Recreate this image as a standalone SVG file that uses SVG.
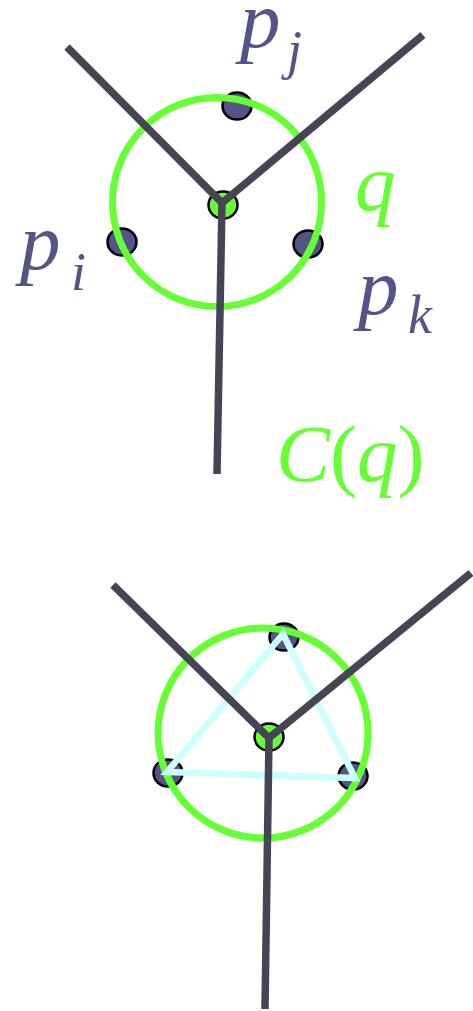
<svg xmlns="http://www.w3.org/2000/svg" width="473" height="1011" viewBox="0 0 473 1011">
<style>
.edge{stroke:#454555;stroke-width:7.5;fill:none}
.site{fill:#545488;stroke:#000;stroke-width:2.5}
.vert{fill:#66ff33;stroke:#000;stroke-width:2.5}
.circ{fill:none;stroke:#66ff33;stroke-width:7}
.tri{fill:none;stroke:#ccffff;stroke-width:6.5;stroke-linejoin:miter}
</style>
<rect width="473" height="1011" fill="#fff"/>
<g id="top-figure">
  <g id="site-pj"><ellipse class="site" cx="237" cy="106" rx="14.5" ry="13.5"/></g>
  <g id="site-pi"><ellipse class="site" cx="122" cy="242" rx="14.5" ry="13.5"/></g>
  <g id="site-pk"><ellipse class="site" cx="308" cy="244" rx="14.5" ry="13.5"/></g>
  <g id="circle-Cq"><circle class="circ" cx="217" cy="202" r="104.5"/></g>
  <g id="vertex-q"><ellipse class="vert" cx="223" cy="205" rx="14.5" ry="13.5"/></g>
  <g id="edges-top">
    <polyline class="edge" points="67,47 222,203 423,35"/>
    <line class="edge" x1="222" y1="203" x2="217" y2="474"/>
  </g>
  <g id="label-pj"><text x="240" y="47" font-family="Liberation Serif" font-style="italic" font-size="81" fill="#545488">p</text><text x="287" y="68" font-family="Liberation Serif" font-style="italic" font-size="54" fill="#545488">j</text></g>
  <g id="label-pi"><text x="20" y="269" font-family="Liberation Serif" font-style="italic" font-size="81" fill="#545488">p</text><text x="71" y="290" font-family="Liberation Serif" font-style="italic" font-size="54" fill="#545488">i</text></g>
  <g id="label-pk"><text x="358" y="314" font-family="Liberation Serif" font-style="italic" font-size="81" fill="#545488">p</text><text x="408" y="333" font-family="Liberation Serif" font-style="italic" font-size="54" fill="#545488">k</text></g>
  <g id="label-q"><text x="355" y="210" font-family="Liberation Serif" font-style="italic" font-size="81" fill="#66ff33">q</text></g>
  <g id="label-Cq"><text x="276" y="481" font-family="Liberation Serif" font-style="italic" font-size="81" fill="#66ff33">C<tspan font-style="normal">(</tspan>q<tspan font-style="normal">)</tspan></text></g>
</g>
<g id="bottom-figure">
  <g id="site-top"><ellipse class="site" cx="284" cy="637" rx="14.5" ry="13.5"/></g>
  <g id="site-left"><ellipse class="site" cx="168" cy="773" rx="14.5" ry="13.5"/></g>
  <g id="site-right"><ellipse class="site" cx="353" cy="776" rx="14.5" ry="13.5"/></g>
  <g id="circle-bottom"><circle class="circ" cx="263" cy="733" r="105"/></g>
  <g id="triangle"><polygon class="tri" points="283,634 167,772 355,778"/></g>
  <g id="vertex-bottom"><ellipse class="vert" cx="269" cy="737" rx="14.5" ry="13.5"/></g>
  <g id="edges-bottom">
    <polyline class="edge" points="113,585 269,738 471,573"/>
    <line class="edge" x1="269" y1="738" x2="265" y2="1009"/>
  </g>
</g>
</svg>
